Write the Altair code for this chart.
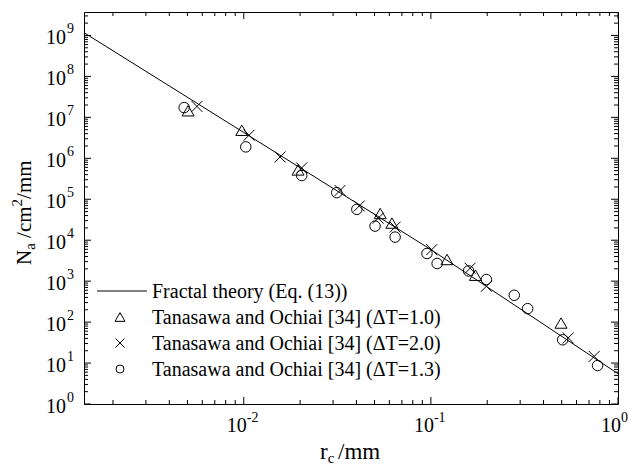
import altair as alt
import pandas as pd

FONT = "Times New Roman, Liberation Serif, serif"

# ---- data ----
line_r = [0.0014, 0.01, 0.1, 1.0]
line_n = [1.17e9, 4.27e6, 5.9e3, 5.5]

tri_r = [0.00504, 0.00976, 0.0195, 0.0536, 0.0619, 0.122, 0.173, 0.496]
tri_n = [1.45e7, 4.84e6, 5.2e5, 4.48e4, 2.62e4, 3380, 1396, 94.8]

crs_r = [0.00562, 0.01067, 0.01563, 0.0204, 0.0327, 0.0414, 0.0523, 0.0644,
         0.101, 0.162, 0.198, 0.542, 0.746]
crs_n = [1.85e7, 3.66e6, 1.08e6, 5.82e5, 1.64e5, 6.84e4, 3.46e4, 2.09e4,
         5880, 2070, 750, 41.1, 14.5]

cir_r = [0.0048, 0.01025, 0.0204, 0.0314, 0.0402, 0.0503, 0.0644, 0.0953,
         0.108, 0.159, 0.198, 0.279, 0.329, 0.506, 0.778]
cir_n = [1.73e7, 1.9e6, 3.8e5, 1.45e5, 5.67e4, 2.21e4, 1.19e4, 4740,
         2700, 1778, 1096, 452, 213, 37, 8.7]

x_dec = [-2, -1, 0]
y_dec = [0, 1, 2, 3, 4, 5, 6, 7, 8, 9]

legend_labels = [
    "Fractal theory (Eq. (13))",
    "Tanasawa and Ochiai [34] (\u0394T=1.0)",
    "Tanasawa and Ochiai [34] (\u0394T=2.0)",
    "Tanasawa and Ochiai [34] (\u0394T=1.3)",
]

X_MIN, X_MAX = 0.0014, 1.0
Y_MIN, Y_MAX = 1.0, 3.74e9
W, H = 534, 392

xs = alt.Scale(type="log", domain=[X_MIN, X_MAX], nice=False)
ys = alt.Scale(type="log", domain=[Y_MIN, Y_MAX], nice=False)

one = pd.DataFrame({"k": [0]})


def X(f="r"):
    return alt.X(f"{f}:Q", scale=xs, axis=None)


def Y(f="n"):
    return alt.Y(f"{f}:Q", scale=ys, axis=None)


layers = []

# theory line
layers.append(
    alt.Chart(pd.DataFrame({"r": line_r, "n": line_n}))
    .mark_line(color="black", strokeWidth=1)
    .encode(x=X(), y=Y())
)

CROSS = "M-1,-1L1,1M-1,1L1,-1"


def pts(r, n, shape, size):
    return (
        alt.Chart(pd.DataFrame({"r": r, "n": n}))
        .mark_point(shape=shape, size=size, filled=False, color="black",
                    strokeWidth=1, opacity=1)
        .encode(x=X(), y=Y())
    )


layers.append(pts(tri_r, tri_n, "triangle-up", 144))
layers.append(pts(crs_r, crs_n, CROSS, 121))
layers.append(pts(cir_r, cir_n, "circle", 110))

# ---- ticks (inward, all four sides) ----
x_major = [10.0 ** e for e in x_dec]
x_minor = [m * 10.0 ** e for e in (-3, -2, -1) for m in range(2, 10)
           if X_MIN <= m * 10.0 ** e <= X_MAX]
y_major = [10.0 ** e for e in y_dec]
y_minor = [m * 10.0 ** e for e in range(0, 10) for m in range(2, 10)
           if m * 10.0 ** e <= Y_MAX]


def xticks(vals, ln):
    d = pd.DataFrame({"v": vals})
    b = alt.Chart(d).mark_rule(color="black", strokeWidth=1).encode(
        x=X("v"), y=alt.value(H), y2=alt.value(H - ln))
    t = alt.Chart(d).mark_rule(color="black", strokeWidth=1).encode(
        x=X("v"), y=alt.value(0), y2=alt.value(ln))
    return [b, t]


def yticks(vals, ln):
    d = pd.DataFrame({"v": vals})
    l = alt.Chart(d).mark_rule(color="black", strokeWidth=1).encode(
        y=Y("v"), x=alt.value(0), x2=alt.value(ln))
    r = alt.Chart(d).mark_rule(color="black", strokeWidth=1).encode(
        y=Y("v"), x=alt.value(W), x2=alt.value(W - ln))
    return [l, r]


layers += xticks(x_major, 7) + xticks(x_minor, 4)
layers += yticks(y_major, 7) + yticks(y_minor, 4)

# ---- tick labels 10^e ----
xl = pd.DataFrame({"v": x_major, "e": [str(e) for e in x_dec]})
layers.append(
    alt.Chart(xl).mark_text(font=FONT, fontSize=20, align="right",
                            baseline="alphabetic", dx=3, color="black", text="10")
    .encode(x=X("v"), y=alt.value(419.7))
)
layers.append(
    alt.Chart(xl).mark_text(font=FONT, fontSize=14, align="left",
                            baseline="alphabetic", dx=3, color="black")
    .encode(x=X("v"), y=alt.value(409.5), text="e:N")
)

yl = pd.DataFrame({"v": y_major, "e": [str(e) for e in y_dec]})
layers.append(
    alt.Chart(yl).mark_text(font=FONT, fontSize=20, align="right",
                            baseline="alphabetic", dy=9, color="black", text="10")
    .encode(y=Y("v"), x=alt.value(-18))
)
layers.append(
    alt.Chart(yl).mark_text(font=FONT, fontSize=14, align="left",
                            baseline="alphabetic", dy=-2, color="black")
    .encode(y=Y("v"), x=alt.value(-17), text="e:N")
)


def piece(txt, x, y, size, angle=None):
    kw = dict(font=FONT, fontSize=size, align="left", baseline="alphabetic",
              color="black", text=txt)
    if angle is not None:
        kw["angle"] = angle
    return alt.Chart(one).mark_text(**kw).encode(x=alt.value(x), y=alt.value(y))


# x title: r_c /mm
layers.append(piece("r", 236, 447.3, 23))
layers.append(piece("c", 243.7, 451, 15))
layers.append(piece("/mm", 254, 447.3, 23))

# y title: N_a /cm^2/mm (rotated)
layers.append(piece("N", -53, 253, 21, 270))
layers.append(piece("a", -49, 237.8, 15, 270))
layers.append(piece("/cm", -53, 225.9, 21, 270))
layers.append(piece("2", -62, 194.4, 15, 270))
layers.append(piece("/mm", -53, 186.9, 21, 270))

# ---- legend ----
rows = [279, 305, 331, 357]
layers.append(
    alt.Chart(one).mark_rule(color="black", strokeWidth=1)
    .encode(x=alt.value(13), x2=alt.value(63), y=alt.value(rows[0]))
)


def sym(shape, size, y):
    return (
        alt.Chart(one)
        .mark_point(shape=shape, size=size, filled=False, color="black",
                    strokeWidth=1, opacity=1)
        .encode(x=alt.value(36), y=alt.value(y))
    )


layers.append(sym("triangle-up", 100, rows[1]))
layers.append(sym(CROSS, 81, rows[2]))
layers.append(sym("circle", 64, rows[3]))
for lab, yy in zip(legend_labels, rows):
    layers.append(piece(lab, 68, yy + 6.5, 20))

chart = (
    alt.layer(*layers)
    .properties(
        width=W,
        height=H,
        autosize=alt.AutoSizeParams(type="none"),
        padding={"left": 84, "top": 12, "right": 12, "bottom": 62},
        background="white",
    )
    .configure_view(stroke="black", strokeWidth=1)
)

chart.save("out.html", embed_options={"renderer": "svg", "actions": False})
